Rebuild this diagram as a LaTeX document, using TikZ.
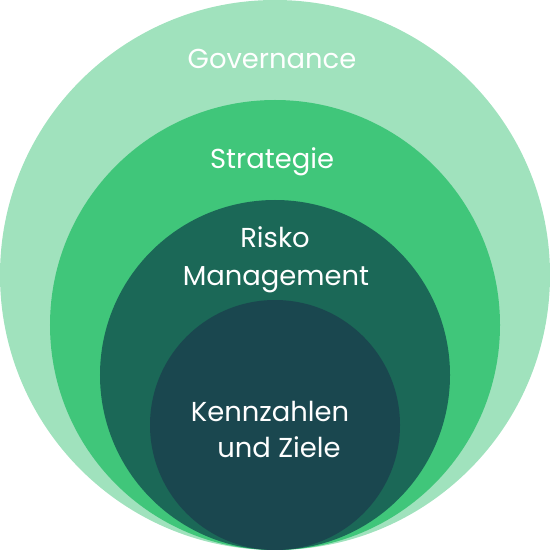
\documentclass[tikz,border=0pt]{standalone}
\usepackage{fontspec}
\setmainfont{Poppins}
\definecolor{cA}{HTML}{A0E2BD}
\definecolor{cB}{HTML}{40C67A}
\definecolor{cC}{HTML}{1B6857}
\definecolor{cD}{HTML}{1A474F}
\begin{document}
\begin{tikzpicture}[x=1bp,y=-1bp,
  ring/.style={circle,inner sep=0pt,minimum size=#1},
  lbl/.style={text=white,font=\fontsize{27.5}{33}\selectfont,inner sep=0pt,anchor=base}]
\useasboundingbox (0,0) rectangle (550,550);
\node[ring=550bp,fill=cA] (gov) at (275,275) {};
\node[ring=450bp,fill=cB] (str) at (275,325) {};
\node[ring=350bp,fill=cC] (risk) at (275,375) {};
\node[ring=250bp,fill=cD] (kpi) at (275,425) {};
\node[lbl] (t1) at (272,69) {Governance};
\node[lbl] (t2) at (272,169) {Strategie};
\node[lbl] (t3) at (275,247) {Risko};
\node[lbl] (t4) at (276,285) {Management};
\node[lbl] (t5) at (270,421) {Kennzahlen};
\node[lbl] (t6) at (279,457) {und Ziele};
\end{tikzpicture}
\end{document}
